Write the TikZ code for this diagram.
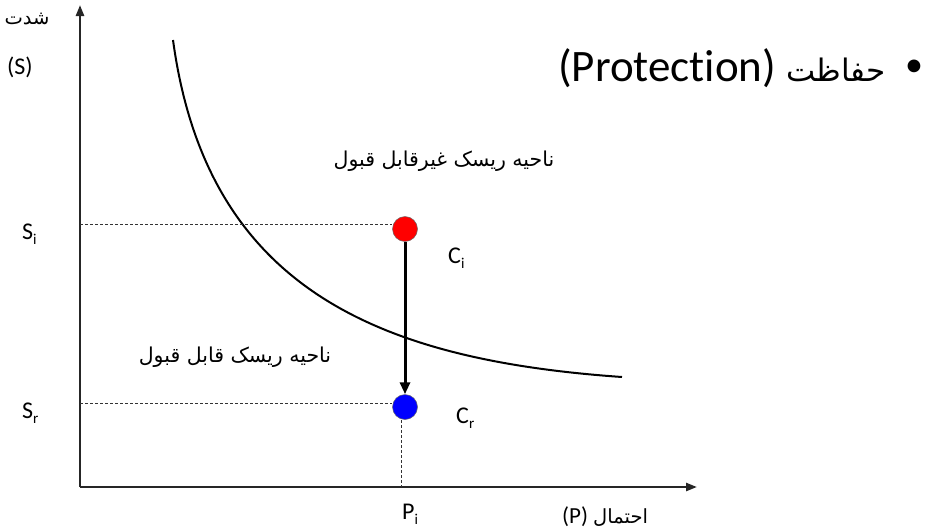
\documentclass[tikz,border=0pt]{standalone}
\usepackage{fontspec}
\setmainfont{Carlito}[Ligatures=NoCommon]
\newfontfamily\arabicfont[Script=Arabic]{DejaVu Sans}
\TeXXeTstate=1
\usetikzlibrary{arrows.meta}
\newcommand{\lowsub}[1]{\raisebox{-5pt}{\fontsize{15}{16}\selectfont #1}}
\begin{document}
\begin{tikzpicture}[x=1pt,y=-1pt,
  axis/.style={line width=2.4pt,black!85,-{Triangle[length=11pt,width=8pt]}},
  guide/.style={line width=0.6pt,dash pattern=on 3pt off 2pt,black!80},
  lbl/.style={font=\fontsize{24}{28}\selectfont,inner sep=0pt,anchor=base west},
  fa/.style={font=\arabicfont\fontsize{20.5}{24}\selectfont,inner sep=0pt},
  dot/.style={circle,minimum size=25pt,inner sep=0pt,draw=black!60,line width=0.5pt}]
\useasboundingbox (0,0) rectangle (937,531);
\coordinate (O) at (80,487);
\coordinate (ytop) at (80,5);
\coordinate (xend) at (697,487);
\draw[axis] (O) -- (ytop);
\draw[axis] (O) -- (xend);
% curve
\draw[line width=2pt] (173,40) .. controls (207,290) and (380,360) .. (622,377);
% points
\node[dot,fill=red] (ci) at (405,229) {};
\node[dot,fill=blue] (cr) at (405,407) {};
\coordinate (si) at (80,224);
\coordinate (sr) at (80,403);
\coordinate (pi) at (401,487);
\draw[guide] (si) -- (ci.west |- si);
\draw[guide] (sr) -- (cr.west |- sr);
\draw[guide] (cr.south -| pi) -- (pi);
\draw[line width=3pt,-{Triangle[length=12pt,width=10pt]}] (ci.south) -- (cr.north);
% labels
\node[lbl] (lsi) at (22,239) {S\lowsub{i}};
\node[lbl] (lsr) at (22,418) {S\lowsub{r}};
\node[lbl] (lci) at (448,263) {C\lowsub{i}};
\node[lbl] (lcr) at (456,423) {C\lowsub{r}};
\node[lbl] (lpi) at (402,519) {P\lowsub{i}};
\node[font=\arabicfont\fontsize{19.5}{22}\selectfont,inner sep=0pt] (lsh) at (27,19) {\beginR شدت\endR};
\node[lbl] (ls) at (7,74) {(S)};
\node[lbl,font=\fontsize{23}{26}\selectfont] (lp) at (562,523) {(P) {\arabicfont\fontsize{19.5}{22}\selectfont\beginR احتمال\endR}};
\node[fa] (r1) at (444,161) {\beginR ناحیه ریسک غیرقابل قبول\endR};
\node[fa] (r2) at (235,357) {\beginR ناحیه ریسک قابل قبول\endR};
% title
\node[inner sep=0pt,font=\fontsize{36}{40}\selectfont] (bul) at (914,68) {•};
\node[inner sep=0pt,anchor=east,font=\fontsize{45}{50}\selectfont] (title) at (886,68) {(Protection) {\arabicfont\fontsize{31}{36}\selectfont\beginR حفاظت\endR}};
\end{tikzpicture}
\end{document}
